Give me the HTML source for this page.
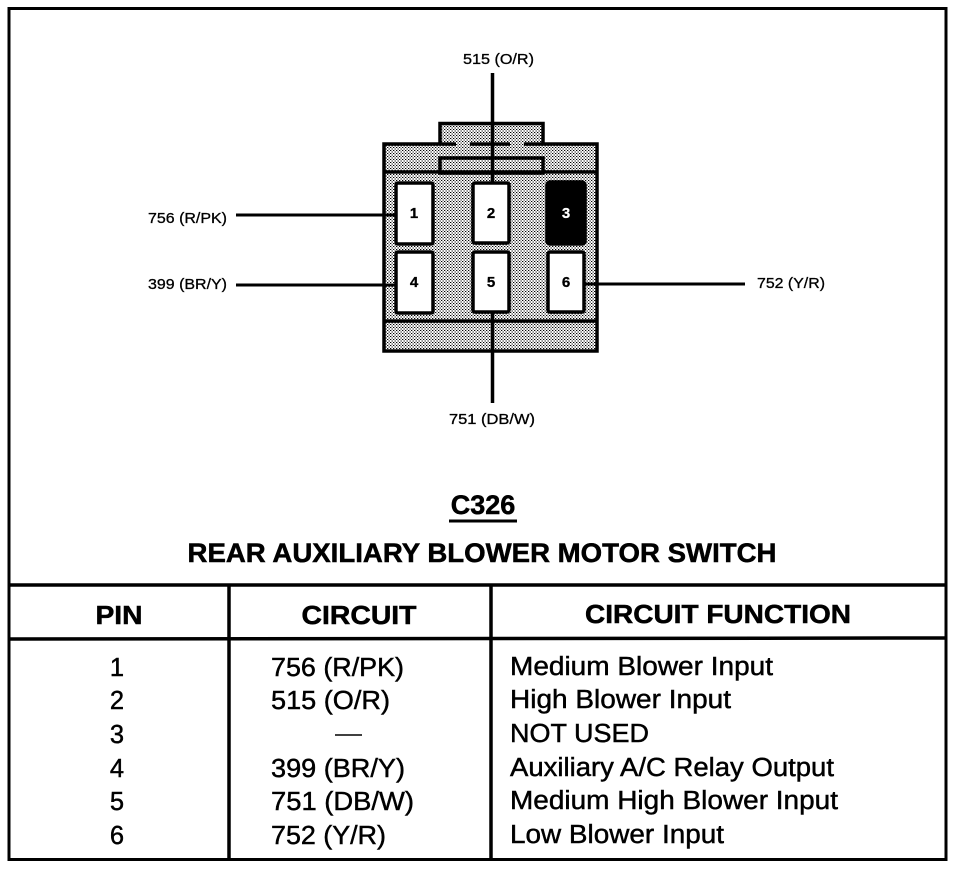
<!DOCTYPE html>
<html>
<head>
<meta charset="utf-8">
<style>
html,body{margin:0;padding:0;background:#fff;}
svg{display:block;}
text{font-family:"Liberation Sans",sans-serif;fill:#000;}
.s{font-size:15px;stroke:#000;stroke-width:.3px;}
.p{font-size:15px;font-weight:bold;stroke:#000;stroke-width:.3px;}
.h{font-size:26px;font-weight:bold;stroke:#000;stroke-width:.5px;}
.t{font-size:25.5px;stroke:#000;stroke-width:.45px;}
</style>
</head>
<body>
<svg width="960" height="870" viewBox="0 0 960 870" xmlns="http://www.w3.org/2000/svg">
<defs>
<pattern id="d" width="3" height="3" patternUnits="userSpaceOnUse">
<rect width="3" height="3" fill="#fff"/>
<rect x="0" y="0" width="1.3" height="1" fill="#000"/>
<rect x="1.5" y="1.5" width="1.3" height="1" fill="#000"/>
</pattern>
</defs>
<rect width="960" height="870" fill="#fff"/>

<!-- outer frame -->
<rect x="9" y="8.5" width="937" height="851" fill="none" stroke="#000" stroke-width="3"/>
<line x1="8" y1="585" x2="946" y2="585" stroke="#000" stroke-width="3.5"/>
<line x1="8" y1="639" x2="946" y2="638" stroke="#000" stroke-width="3.5"/>
<line x1="229" y1="585" x2="229" y2="860" stroke="#000" stroke-width="3.5"/>
<line x1="491" y1="585" x2="491" y2="860" stroke="#000" stroke-width="3.5"/>

<!-- connector -->
<rect x="440" y="123.5" width="103" height="24" fill="url(#d)" stroke="#000" stroke-width="3.5"/>
<rect x="384" y="144" width="213" height="207" fill="url(#d)" stroke="#000" stroke-width="3.5"/>
<rect x="456" y="141" width="14" height="5" fill="url(#d)"/>
<rect x="510" y="141" width="14" height="5" fill="url(#d)"/>
<rect x="440" y="158" width="103" height="15" fill="none" stroke="#000" stroke-width="3.5"/>
<line x1="384" y1="172" x2="597" y2="172" stroke="#000" stroke-width="3.5"/>
<line x1="384" y1="321" x2="597" y2="321" stroke="#000" stroke-width="3.5"/>

<!-- wires -->
<line x1="492.5" y1="73" x2="492.5" y2="182" stroke="#000" stroke-width="3.5"/>
<line x1="492.5" y1="313" x2="492.5" y2="403" stroke="#000" stroke-width="3.5"/>
<line x1="236" y1="215" x2="396" y2="215" stroke="#000" stroke-width="3"/>
<line x1="236" y1="285" x2="396" y2="285" stroke="#000" stroke-width="3"/>
<line x1="585" y1="284" x2="745" y2="284" stroke="#000" stroke-width="3"/>

<!-- pins -->
<g stroke="#000" stroke-width="3.5" fill="#fff">
<rect x="396" y="183" width="37" height="61" rx="2"/>
<rect x="473" y="183" width="36" height="60" rx="2"/>
<rect x="547" y="182" width="38" height="62" rx="3" fill="#000"/>
<rect x="396" y="252" width="37" height="61" rx="2"/>
<rect x="473" y="252" width="36" height="60" rx="2"/>
<rect x="548" y="252" width="36" height="60" rx="2"/>
</g>
<text class="p" x="414" y="218" text-anchor="middle">1</text>
<text class="p" x="491" y="218" text-anchor="middle">2</text>
<text class="p" x="566" y="218" text-anchor="middle" style="fill:#fff;stroke:#fff;stroke-width:.2px">3</text>
<text class="p" x="414" y="287" text-anchor="middle">4</text>
<text class="p" x="491" y="287" text-anchor="middle">5</text>
<text class="p" x="566" y="287" text-anchor="middle">6</text>

<!-- wire labels -->
<text class="s" x="463" y="64" textLength="71" lengthAdjust="spacingAndGlyphs">515 (O/R)</text>
<text class="s" x="148" y="223" textLength="79" lengthAdjust="spacingAndGlyphs">756 (R/PK)</text>
<text class="s" x="148" y="289" textLength="79" lengthAdjust="spacingAndGlyphs">399 (BR/Y)</text>
<text class="s" x="757" y="288" textLength="68" lengthAdjust="spacingAndGlyphs">752 (Y/R)</text>
<text class="s" x="449" y="424" textLength="86" lengthAdjust="spacingAndGlyphs">751 (DB/W)</text>

<!-- title -->
<text x="483" y="514" text-anchor="middle" style="font-size:27px;font-weight:bold;stroke:#000;stroke-width:.5px">C326</text>
<line x1="449" y1="521" x2="517" y2="521" stroke="#000" stroke-width="3"/>
<text x="482" y="562" text-anchor="middle" style="font-size:26.5px;font-weight:bold;stroke:#000;stroke-width:.5px" textLength="589" lengthAdjust="spacingAndGlyphs">REAR AUXILIARY BLOWER MOTOR SWITCH</text>

<!-- table header -->
<text class="h" x="119" y="624" text-anchor="middle" textLength="47" lengthAdjust="spacingAndGlyphs">PIN</text>
<text class="h" x="359" y="624" text-anchor="middle" textLength="115" lengthAdjust="spacingAndGlyphs">CIRCUIT</text>
<text class="h" x="718" y="623" text-anchor="middle" textLength="266" lengthAdjust="spacingAndGlyphs">CIRCUIT FUNCTION</text>

<!-- table rows -->
<g class="t">
<text class="t" x="117" y="676" text-anchor="middle">1</text>
<text class="t" x="117" y="709" text-anchor="middle">2</text>
<text class="t" x="117" y="743" text-anchor="middle">3</text>
<text class="t" x="117" y="777" text-anchor="middle">4</text>
<text class="t" x="117" y="810" text-anchor="middle">5</text>
<text class="t" x="117" y="844" text-anchor="middle">6</text>

<text class="t" x="271" y="676" textLength="133" lengthAdjust="spacingAndGlyphs">756 (R/PK)</text>
<text class="t" x="271" y="709" textLength="119" lengthAdjust="spacingAndGlyphs">515 (O/R)</text>
<line x1="335" y1="735" x2="362" y2="735" stroke="#000" stroke-width="1.5"/>
<text class="t" x="271" y="777" textLength="134" lengthAdjust="spacingAndGlyphs">399 (BR/Y)</text>
<text class="t" x="271" y="810" textLength="143" lengthAdjust="spacingAndGlyphs">751 (DB/W)</text>
<text class="t" x="271" y="844" textLength="115" lengthAdjust="spacingAndGlyphs">752 (Y/R)</text>

<text class="t" x="510" y="675" textLength="263" lengthAdjust="spacingAndGlyphs">Medium Blower Input</text>
<text class="t" x="510" y="708" textLength="221" lengthAdjust="spacingAndGlyphs">High Blower Input</text>
<text class="t" x="510" y="742" textLength="139" lengthAdjust="spacingAndGlyphs">NOT USED</text>
<text class="t" x="510" y="776" textLength="324" lengthAdjust="spacingAndGlyphs">Auxiliary A/C Relay Output</text>
<text class="t" x="510" y="809" textLength="328" lengthAdjust="spacingAndGlyphs">Medium High Blower Input</text>
<text class="t" x="510" y="843" textLength="214" lengthAdjust="spacingAndGlyphs">Low Blower Input</text>
</g>
</svg>
</body>
</html>
